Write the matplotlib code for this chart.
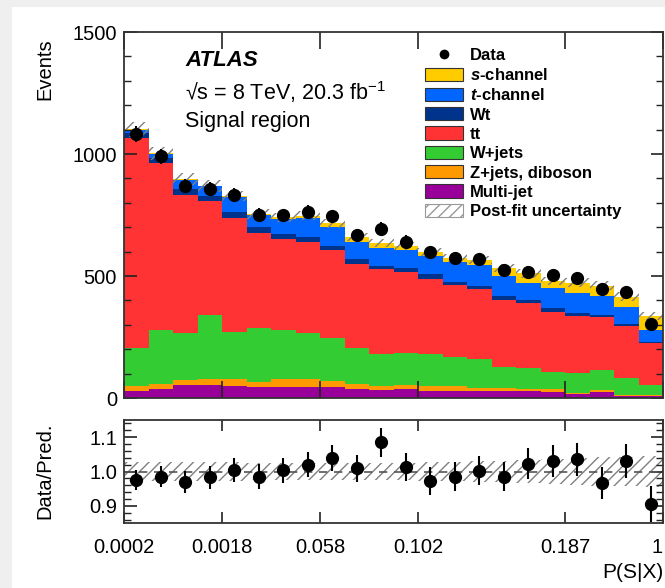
import numpy as np
import matplotlib
matplotlib.use("Agg")
import matplotlib.pyplot as plt
from matplotlib.patches import Patch, Rectangle
from matplotlib.lines import Line2D
from matplotlib.ticker import FixedLocator, MultipleLocator, NullLocator

plt.rcParams['font.family'] = ['Liberation Sans', 'DejaVu Sans']
plt.rcParams['mathtext.fontset'] = 'custom'
plt.rcParams['mathtext.rm'] = 'Liberation Sans'
plt.rcParams['mathtext.it'] = 'Liberation Sans:italic'
plt.rcParams['mathtext.bf'] = 'Liberation Sans:bold:italic'
plt.rcParams['hatch.linewidth'] = 1.0

# ---------------- data ----------------
tick_pos = [0, 4, 8, 12, 18, 22]
tick_labels = ['0.0002', '0.0018', '0.058', '0.102', '0.187', '1']

multijet = [29, 36, 53, 53, 49, 46, 46, 44, 44, 37, 33, 36, 30, 30, 30, 29, 29, 23, 16, 23, 10, 8]
zjets = [20, 21, 21, 25, 28, 18, 31, 35, 24, 20, 17, 19, 20, 20, 12, 11, 7, 13, 6, 10, 2, 4]
wjets = [157, 222, 191, 262, 195, 222, 202, 186, 179, 147, 130, 131, 129, 119, 118, 88, 86, 72, 79, 82, 69, 41]
ttbar = [858, 685, 567, 467, 467, 391, 371, 376, 360, 345, 347, 329, 310, 294, 286, 274, 266, 246, 235, 218, 214, 174]
wt = [23, 20, 25, 22, 22, 22, 22, 18, 18, 19, 14, 16, 18, 14, 14, 14, 14, 14, 11, 7, 8, 4]
tchan = [12, 18, 38, 38, 63, 51, 63, 78, 75, 72, 75, 75, 75, 79, 86, 85, 71, 82, 82, 79, 71, 48]
schan = [3, 1, 2, 3, 4, 4, 5, 10, 16, 18, 18, 18, 18, 19, 20, 31, 38, 30, 44, 41, 41, 57]

data = [1080, 990, 870, 858, 832, 752, 748, 762, 745, 667, 694, 641, 598, 575, 571, 525, 518, 504, 490, 445, 436, 303]
ratio = [0.975, 0.985, 0.97, 0.983, 1.005, 0.985, 1.003, 1.02, 1.04, 1.01, 1.085, 1.013,
         0.972, 0.985, 1.002, 0.985, 1.023, 1.03, 1.035, 0.967, 1.03, 0.905]
unc_rel = [0.028, 0.027, 0.027, 0.028, 0.027, 0.026, 0.026, 0.026, 0.026, 0.025, 0.025, 0.026,
           0.027, 0.028, 0.030, 0.032, 0.034, 0.036, 0.040, 0.042, 0.043, 0.044]

components = [
    ("Multi-jet", multijet, "#990099"),
    ("Z+jets, diboson", zjets, "#ff9900"),
    ("W+jets", wjets, "#33cc33"),
    ("tt", ttbar, "#ff3333"),
    ("Wt", wt, "#00338c"),
    ("$\\mathbf{t}$-channel", tchan, "#0066ff"),
    ("$\\mathbf{s}$-channel", schan, "#ffcc00"),
]

nb = len(data)
edges = np.arange(nb + 1)
centers = edges[:-1] + 0.5

W, H = 665, 588
fig = plt.figure(figsize=(W / 100, H / 100), dpi=100)
fig.patch.set_facecolor('#efefef')
fig.add_artist(Rectangle((12 / W, 0), 1 - 12 / W, 1 - 7 / H, transform=fig.transFigure,
                         facecolor='white', edgecolor='none', zorder=-10))

def fx(px):
    return px / W

def fy(py):
    return 1 - py / H

L, R = 124, 663
ax = fig.add_axes([fx(L), fy(398), fx(R) - fx(L), fy(32) - fy(398)])
axr = fig.add_axes([fx(L), fy(523), fx(R) - fx(L), fy(420) - fy(523)])

# ---------------- main stack ----------------
base = np.zeros(nb)
for name, vals, col in components:
    v = np.asarray(vals, float)
    ax.stairs(base + v, edges, baseline=base.copy(), fill=True, color=col, linewidth=0)
    base = base + v
total = base

unc = np.asarray(unc_rel)
lo = total * (1 - unc)
hi = total * (1 + unc)
ax.stairs(hi, edges, baseline=lo, fill=True, facecolor='none', edgecolor='#808080',
          hatch='///', linewidth=0)

d = np.asarray(data, float)
ax.errorbar(centers, d, yerr=np.sqrt(d), fmt='o', color='black', ms=8.5,
            elinewidth=1.5, capsize=0, zorder=5)

ax.set_xlim(0, nb)
ax.set_ylim(0, 1500)
ax.yaxis.set_major_locator(FixedLocator([0, 500, 1000, 1500]))
ax.yaxis.set_minor_locator(MultipleLocator(100))
ax.xaxis.set_major_locator(FixedLocator(tick_pos))
ax.xaxis.set_minor_locator(NullLocator())
ax.set_xticklabels([])
ax.tick_params(axis='both', which='both', direction='in', top=True, right=True,
               labelsize=14.5, colors='#222222', labelcolor='black')
ax.tick_params(axis='x', which='major', length=12, width=1.2)
ax.tick_params(axis='y', which='major', length=9, width=1.2, pad=5)
ax.tick_params(axis='y', which='minor', length=5, width=1.0)
for s in ax.spines.values():
    s.set_linewidth(1.3)
    s.set_color('#333333')

# text
ax.text(fx(185), fy(60), 'ATLAS', transform=fig.transFigure, fontsize=16,
        fontweight='bold', fontstyle='italic', va='center', ha='left')
ax.text(fx(185), fy(92), '\u221As = 8 TeV, 20.3 fb$^{-1}$', transform=fig.transFigure,
        fontsize=15.5, va='center', ha='left')
ax.text(fx(185), fy(122), 'Signal region', transform=fig.transFigure,
        fontsize=15.5, va='center', ha='left')

# legend
handles = [Line2D([], [], marker='o', color='black', linestyle='none', ms=6)]
labels = ['Data']
for name, vals, col in components[::-1]:
    handles.append(Patch(facecolor=col, edgecolor='#333333', linewidth=0.8))
    labels.append(name)
handles.append(Patch(facecolor='white', edgecolor='#999999', hatch='///', linewidth=0.8))
labels.append('Post-fit uncertainty')
leg = ax.legend(handles, labels, loc='upper left', bbox_to_anchor=(fx(425), fy(48)),
                bbox_transform=fig.transFigure, frameon=False,
                prop={'size': 12.0, 'weight': 'bold'},
                handlelength=2.3, handleheight=0.85, handletextpad=0.4,
                labelspacing=0.235, borderpad=0, borderaxespad=0)

fig.text(fx(45), fy(38), 'Events', rotation=90, fontsize=14.5, ha='center', va='top')

# ---------------- ratio panel ----------------
axr.stairs(1 + unc, edges, baseline=1 - unc, fill=True, facecolor='none',
           edgecolor='#808080', hatch='///', linewidth=0)
axr.axhline(1.0, color='#555555', linestyle=(0, (5, 4)), linewidth=1.2)
rr = np.asarray(ratio)
axr.errorbar(centers, rr, yerr=np.sqrt(d) / total, fmt='o', color='black', ms=8.5,
             elinewidth=1.5, capsize=0, zorder=5)
axr.set_xlim(0, nb)
axr.set_ylim(0.85, 1.15)
axr.yaxis.set_major_locator(FixedLocator([0.9, 1.0, 1.1]))
axr.yaxis.set_minor_locator(MultipleLocator(0.02))
axr.set_yticklabels(['0.9', '1.0', '1.1'])
axr.xaxis.set_major_locator(FixedLocator(tick_pos))
axr.xaxis.set_minor_locator(NullLocator())
axr.set_xticklabels(tick_labels)
axr.get_xticklabels()[-1].set_horizontalalignment('right')
axr.tick_params(axis='both', which='both', direction='in', top=True, right=True,
                labelsize=14.5, colors='#222222', labelcolor='black')
axr.tick_params(axis='x', which='major', length=8, width=1.2, pad=11)
axr.tick_params(axis='y', which='major', length=9, width=1.2, pad=5)
axr.tick_params(axis='y', which='minor', length=5, width=1.0)
for s in axr.spines.values():
    s.set_linewidth(1.3)
    s.set_color('#333333')

fig.text(fx(45), fy(471), 'Data/Pred.', rotation=90, fontsize=14.5, ha='center', va='center')
fig.text(fx(663), fy(573), 'P(S|X)', fontsize=15, ha='right', va='center')

fig.savefig('out.png', dpi=100, facecolor=fig.get_facecolor())
